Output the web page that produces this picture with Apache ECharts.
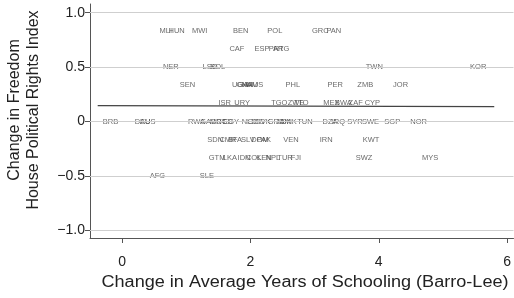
<!DOCTYPE html>
<html>
<head>
<meta charset="utf-8">
<script src="https://cdn.jsdelivr.net/npm/echarts@6/dist/echarts.min.js"></script>
<style>
html, body { margin: 0; padding: 0; background: #fff; }
#main { width: 514px; height: 298px; }
</style>
</head>
<body>
<div id="main"></div>
<script>
// country codes and their (schooling change, rights change)
var countries = ['MLI', 'HUN', 'MWI', 'BEN', 'POL', 'GRC', 'PAN',
    'CAF', 'ESP', 'PRT', 'ARG',
    'NER', 'LSO', 'BOL', 'TWN', 'KOR',
    'SEN', 'UGA', 'GHA', 'NAM', 'MUS', 'PHL', 'PER', 'ZMB', 'JOR',
    'ISR', 'URY', 'TGO', 'ZWE', 'TTO', 'MEX', 'BWA', 'ZAF', 'CYP',
    'BRB', 'DEU', 'AUS', 'RWA', 'GAB', 'MRT', 'BGD', 'EGY', 'NLD', 'COG', 'SVK', 'GRD', 'JAM', 'DNK', 'TUN', 'DZA', 'IRQ', 'SYR', 'SWE', 'SGP', 'NOR',
    'SDN', 'CMR', 'BFA', 'SLV', 'DOM', 'PAK', 'VEN', 'IRN', 'KWT',
    'GTM', 'LKA', 'IDN', 'COL', 'KEN', 'NPL', 'TUR', 'FJI', 'SWZ', 'MYS',
    'AFG', 'SLE'];
var schooling = [0.68, 0.85, 1.21, 1.85, 2.38, 3.09, 3.30,
    1.79, 2.18, 2.40, 2.48,
    0.76, 1.37, 1.49, 3.93, 5.55,
    1.02, 1.84, 1.91, 1.99, 2.07, 2.66, 3.32, 3.79, 4.34,
    1.60, 1.87, 2.45, 2.71, 2.79, 3.26, 3.45, 3.64, 3.90,
    -0.18, 0.32, 0.40, 1.16, 1.34, 1.49, 1.60, 1.70, 1.98, 2.09, 2.20, 2.40, 2.51, 2.60, 2.85, 3.24, 3.37, 3.63, 3.87, 4.21, 4.62,
    1.45, 1.65, 1.76, 1.96, 2.15, 2.21, 2.63, 3.18, 3.88,
    1.48, 1.68, 1.90, 2.05, 2.21, 2.35, 2.54, 2.71, 3.77, 4.80,
    0.55, 1.32];
var rights = [0.833, 0.833, 0.833, 0.833, 0.833, 0.833, 0.833,
    0.667, 0.667, 0.667, 0.667,
    0.5, 0.5, 0.5, 0.5, 0.5,
    0.333, 0.333, 0.333, 0.333, 0.333, 0.333, 0.333, 0.333, 0.333,
    0.167, 0.167, 0.167, 0.167, 0.167, 0.167, 0.167, 0.167, 0.167,
    0, 0, 0, 0, 0, 0, 0, 0, 0, 0, 0, 0, 0, 0, 0, 0, 0, 0, 0, 0, 0,
    -0.167, -0.167, -0.167, -0.167, -0.167, -0.167, -0.167, -0.167, -0.167,
    -0.333, -0.333, -0.333, -0.333, -0.333, -0.333, -0.333, -0.333, -0.333, -0.333,
    -0.5, -0.5];
// fitted line end points
var fitX = [-0.38, 5.8];
var fitY = [0.147, 0.137];
var xTicks = [0, 2, 4, 6];
var yTicks = [-1, -0.5, 0, 0.5, 1];

var myChart = echarts.init(document.getElementById('main'));

var points = [];
for (var i = 0; i < countries.length; i++) {
    points.push([schooling[i], rights[i], countries[i]]);
}
var fitData = [];
for (var j = 0; j < fitX.length; j++) {
    fitData.push([fitX[j], fitY[j]]);
}
var gridLines = [];
for (var k = 0; k < yTicks.length; k++) {
    gridLines.push({ yAxis: yTicks[k] });
}

function fmtY(v) {
    if (v === 0) return '0';
    return v.toFixed(1).replace('-', '\u2212');
}

var option = {
    animation: false,
    grid: { left: 90, right: 0, top: 4, bottom: 60 },
    xAxis: {
        type: 'value',
        min: -0.5,
        max: 6.1,
        axisLine: { show: true, onZero: false, lineStyle: { color: '#555', width: 1 } },
        axisTick: { show: true, length: 5, customValues: xTicks, lineStyle: { color: '#555' } },
        axisLabel: { customValues: xTicks, formatter: function (v) { return String(Math.round(v)); }, color: '#222', fontSize: 14, fontFamily: 'Liberation Sans', margin: 17 },
        splitLine: { show: false }
    },
    yAxis: {
        type: 'value',
        min: -1.07,
        max: 1.08,
        axisLine: { show: true, onZero: false, lineStyle: { color: '#555', width: 1 } },
        axisTick: { show: true, length: 5, customValues: yTicks, lineStyle: { color: '#555' } },
        axisLabel: { customValues: yTicks, formatter: fmtY, color: '#222', fontSize: 14, fontFamily: 'Liberation Sans', margin: 5 },
        splitLine: { show: false }
    },
    graphic: [
        {
            type: 'text',
            x: 24,
            y: 110,
            rotation: Math.PI / 2,
            style: {
                text: 'Change in Freedom\nHouse Political Rights Index',
                fontSize: 16,
                fontFamily: 'Liberation Sans',
                fill: '#222',
                align: 'center',
                verticalAlign: 'middle',
                lineHeight: 19
            }
        },
        {
            type: 'text',
            x: 305,
            y: 283,
            scaleX: 1.13,
            style: {
                text: 'Change in Average Years of Schooling (Barro-Lee)',
                fontSize: 16,
                fontFamily: 'Liberation Sans',
                fill: '#222',
                align: 'center',
                verticalAlign: 'middle'
            }
        }
    ],
    series: [
        {
            type: 'line',
            data: [],
            silent: true,
            markLine: {
                silent: true,
                symbol: 'none',
                label: { show: false },
                lineStyle: { color: '#cfcfcf', width: 1, type: 'solid' },
                data: gridLines
            }
        },
        {
            type: 'line',
            data: fitData,
            showSymbol: false,
            silent: true,
            lineStyle: { color: '#444', width: 1.3 }
        },
        {
            type: 'scatter',
            data: points,
            symbolSize: 1,
            silent: true,
            itemStyle: { color: 'rgba(0,0,0,0)' },
            label: {
                show: true,
                position: 'inside',
                formatter: function (p) { return p.value[2]; },
                color: '#444',
                fontSize: 7.5,
                fontFamily: 'Liberation Sans'
            }
        }
    ]
};

myChart.setOption(option);
</script>
</body>
</html>
